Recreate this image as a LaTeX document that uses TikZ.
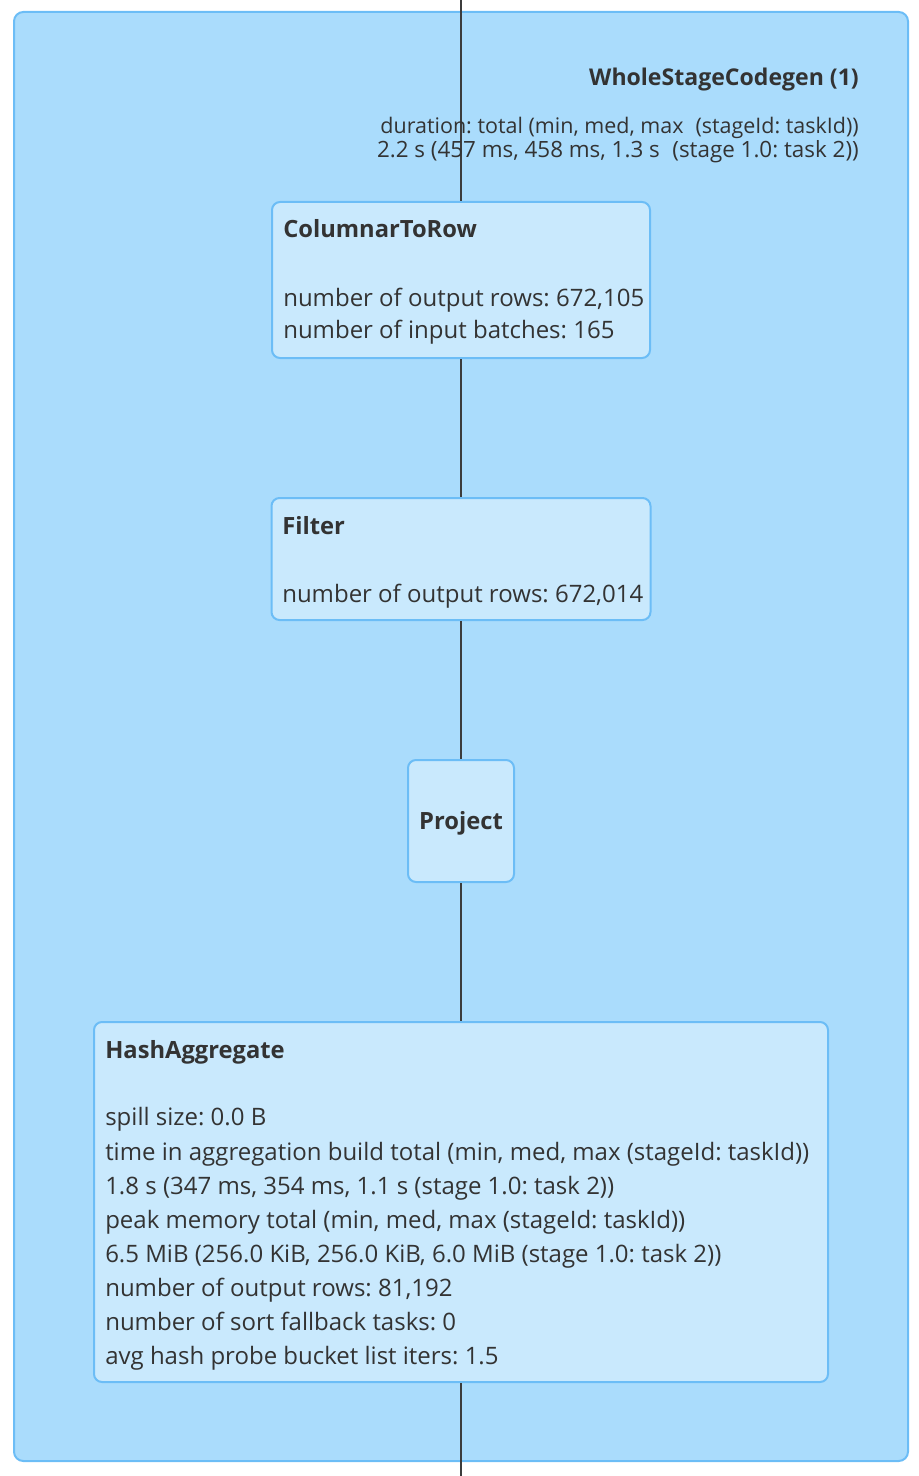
\documentclass[tikz,border=0pt]{standalone}
\usepackage{fontspec}
\setmainfont{Open Sans}
\frenchspacing
\definecolor{outerfill}{HTML}{AADCFC}
\definecolor{outerline}{HTML}{6CBDF6}
\definecolor{innerfill}{HTML}{C9E9FD}
\definecolor{txt}{HTML}{333333}
\definecolor{edgecol}{HTML}{3C3C3C}
\tikzset{
  outerbox/.style={draw=outerline, fill=outerfill, line width=1.5pt, rounded corners=7pt, inner sep=0pt},
  opbox/.style={draw=outerline, fill=innerfill, line width=1.5pt, rounded corners=6pt, inner sep=0pt},
  flow/.style={draw=edgecol, line width=1.9pt},
  lbl/.style={anchor=base west, inner sep=0pt, text=txt, font=\fontsize{18pt}{20pt}\selectfont},
  ttl/.style={lbl, font=\fontsize{17.8pt}{20pt}\selectfont\bfseries},
  durlbl/.style={anchor=base east, inner sep=0pt, text=txt},
}
\begin{document}
\begin{tikzpicture}[x=0.75pt,y=-0.75pt]
\useasboundingbox (0,0) rectangle (918,1476);
\node[outerbox, minimum width=670.5pt, minimum height=1086.75pt] (wsc) at (461,736.5) {};
\coordinate (top) at (461,0);
\coordinate (bot) at (461,1476);
\node[opbox, minimum width=283.5pt, minimum height=117pt] (ctr) at (461,280) {};
\node[opbox, minimum width=284.25pt, minimum height=91.5pt] (filter) at (461,559) {};
\node[opbox, minimum width=79.5pt, minimum height=91.5pt] (project) at (461,821) {};
\node[opbox, minimum width=550.5pt, minimum height=270pt] (hagg) at (461,1202) {};
\draw[flow] (top) -- (ctr);
\draw[flow] (ctr) -- (filter);
\draw[flow] (filter) -- (project);
\draw[flow] (project) -- (hagg);
\draw[flow] (hagg) -- (bot);
% whole stage codegen
\node[anchor=base east, inner sep=0pt, text=txt, font=\fontsize{17.3pt}{20pt}\selectfont\bfseries] (wsct) at (859,86) {WholeStageCodegen (1)};
\node[durlbl, font=\fontsize{16.1pt}{18pt}\selectfont] (dur1) at (859,134) {duration: total (min, med, max\hspace{0.3em} (stageId: taskId))};
\node[durlbl, font=\fontsize{16.8pt}{18pt}\selectfont] (dur2) at (859,158) {2.2 s (457 ms, 458 ms, 1.3 s\hspace{0.3em} (stage 1.0: task 2))};
% ColumnarToRow
\node[ttl] (ctrt) at (283,238) {ColumnarToRow};
\node[lbl] (ctr1) at (283,306) {number of output rows: 672,105};
\node[lbl] (ctr2) at (283,339) {number of input batches: 165};
% Filter
\node[ttl] (filtert) at (282,534) {Filter};
\node[lbl] (filter1) at (282,602) {number of output rows: 672,014};
% Project
\node[inner sep=0pt, text=txt, font=\fontsize{17.8pt}{20pt}\selectfont\bfseries] (projectt) at (461,823) {Project};
% HashAggregate
\node[ttl] (haggt) at (105,1058) {HashAggregate};
\node[lbl] (h1) at (105,1125) {spill size: 0.0 B};
\node[lbl] (h2) at (105,1160) {time in aggregation build total (min, med, max (stageId: taskId))};
\node[lbl] (h3) at (105,1194) {1.8 s (347 ms, 354 ms, 1.1 s (stage 1.0: task 2))};
\node[lbl] (h4) at (105,1228) {peak memory total (min, med, max (stageId: taskId))};
\node[lbl] (h5) at (105,1262) {6.5 MiB (256.0 KiB, 256.0 KiB, 6.0 MiB (stage 1.0: task 2))};
\node[lbl] (h6) at (105,1296) {number of output rows: 81,192};
\node[lbl] (h7) at (105,1330) {number of sort fallback tasks: 0};
\node[lbl] (h8) at (105,1364) {avg hash probe bucket list iters: 1.5};
\end{tikzpicture}
\end{document}
